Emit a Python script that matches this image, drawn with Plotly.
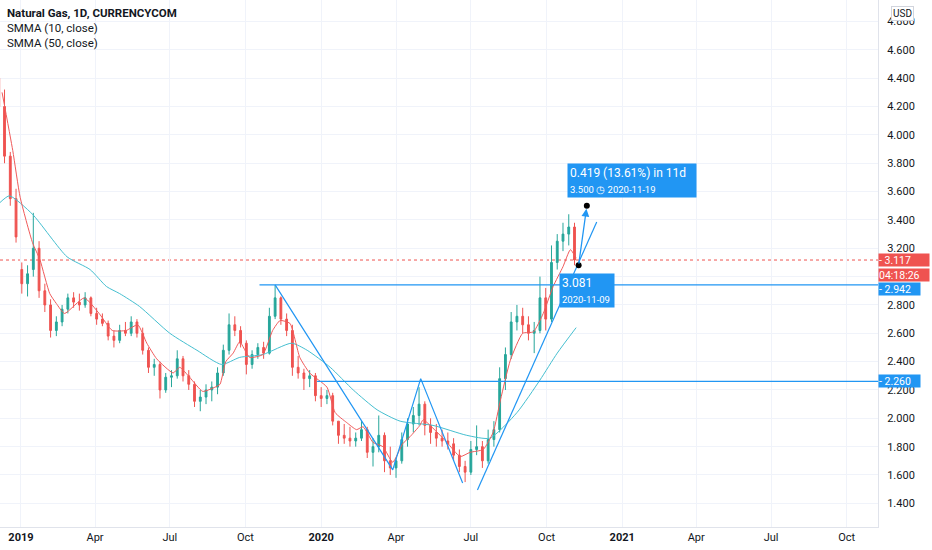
import pandas as pd
import plotly.graph_objects as go

# ---------------- data ----------------
candle_dates = pd.date_range("2018-12-05", periods=101, freq="7D")

opens = [4.40, 4.20, 3.85, 3.55, 3.05, 2.95, 3.05, 3.20, 2.90, 2.80,
         2.62, 2.68, 2.77, 2.85, 2.82, 2.80, 2.85, 2.74, 2.70, 2.67,
         2.58, 2.55, 2.62, 2.60, 2.68, 2.60, 2.48, 2.36, 2.38, 2.20,
         2.29, 2.30, 2.42, 2.30, 2.24, 2.12, 2.15, 2.20, 2.22, 2.32,
         2.48, 2.66, 2.62, 2.53, 2.38, 2.45, 2.50, 2.46, 2.72, 2.85,
         2.70, 2.62, 2.36, 2.32, 2.28, 2.30, 2.16, 2.14, 2.16, 1.98,
         1.88, 1.86, 1.84, 1.86, 1.92, 1.76, 1.80, 1.88, 1.70, 1.65,
         1.70, 1.85, 1.96, 2.02, 2.10, 1.95, 1.90, 1.86, 1.84, 1.82,
         1.74, 1.66, 1.62, 1.78, 1.80, 1.70, 1.85, 1.92, 2.28, 2.45,
         2.68, 2.72, 2.66, 2.60, 2.62, 2.85, 2.70, 3.10, 3.25, 3.30,
         3.35]
highs = [4.58, 4.32, 3.88, 3.62, 3.10, 3.08, 3.45, 3.25, 2.95, 2.84,
         2.72, 2.80, 2.88, 2.89, 2.88, 2.89, 2.86, 2.78, 2.74, 2.69,
         2.62, 2.66, 2.68, 2.72, 2.70, 2.64, 2.50, 2.42, 2.40, 2.32,
         2.34, 2.48, 2.44, 2.34, 2.26, 2.20, 2.24, 2.26, 2.36, 2.52,
         2.74, 2.72, 2.65, 2.55, 2.48, 2.53, 2.54, 2.78, 2.94, 2.86,
         2.74, 2.66, 2.44, 2.35, 2.34, 2.32, 2.22, 2.20, 2.18, 1.98,
         1.96, 1.94, 1.90, 1.98, 1.94, 1.86, 2.02, 1.90, 1.80, 1.72,
         1.90, 2.00, 2.08, 2.22, 2.12, 2.00, 1.96, 1.92, 1.90, 1.86,
         1.78, 1.70, 1.84, 1.95, 1.84, 1.92, 1.98, 2.36, 2.50, 2.75,
         2.80, 2.78, 2.72, 2.68, 3.00, 2.92, 3.22, 3.30, 3.38, 3.44,
         3.38]
lows = [4.15, 3.80, 3.50, 3.24, 2.88, 2.86, 3.00, 2.85, 2.75, 2.57,
        2.58, 2.65, 2.74, 2.78, 2.76, 2.78, 2.72, 2.66, 2.65, 2.55,
        2.50, 2.53, 2.58, 2.58, 2.57, 2.45, 2.32, 2.30, 2.14, 2.18,
        2.22, 2.28, 2.26, 2.20, 2.08, 2.05, 2.10, 2.12, 2.17, 2.30,
        2.45, 2.58, 2.50, 2.31, 2.35, 2.42, 2.42, 2.45, 2.70, 2.66,
        2.58, 2.30, 2.28, 2.20, 2.22, 2.12, 2.08, 2.10, 1.95, 1.82,
        1.82, 1.80, 1.80, 1.84, 1.72, 1.66, 1.76, 1.62, 1.60, 1.58,
        1.68, 1.80, 1.90, 1.95, 1.88, 1.82, 1.80, 1.80, 1.78, 1.70,
        1.62, 1.55, 1.60, 1.74, 1.65, 1.68, 1.80, 1.90, 2.20, 2.42,
        2.62, 2.60, 2.55, 2.46, 2.60, 2.62, 2.68, 3.05, 3.18, 3.22,
        3.08]
closes = [4.20, 3.85, 3.55, 3.28, 2.95, 3.02, 3.20, 2.90, 2.80, 2.62,
          2.68, 2.77, 2.85, 2.82, 2.80, 2.85, 2.74, 2.70, 2.67, 2.58,
          2.55, 2.62, 2.60, 2.68, 2.60, 2.48, 2.36, 2.38, 2.20, 2.29,
          2.30, 2.42, 2.30, 2.24, 2.12, 2.15, 2.20, 2.22, 2.32, 2.48,
          2.66, 2.62, 2.53, 2.38, 2.45, 2.50, 2.46, 2.72, 2.85, 2.70,
          2.62, 2.36, 2.32, 2.28, 2.30, 2.16, 2.14, 2.16, 1.98, 1.88,
          1.86, 1.84, 1.86, 1.92, 1.76, 1.80, 1.88, 1.70, 1.65, 1.70,
          1.85, 1.96, 2.02, 2.10, 1.95, 1.90, 1.86, 1.84, 1.82, 1.74,
          1.66, 1.62, 1.78, 1.80, 1.70, 1.85, 1.92, 2.28, 2.45, 2.68,
          2.72, 2.66, 2.60, 2.62, 2.85, 2.70, 3.10, 3.25, 3.30, 3.35,
          3.117]

smma10_dates = ["2018-12-09", "2018-12-22", "2018-12-31", "2019-01-15", "2019-01-24",
                "2019-02-05", "2019-02-13", "2019-02-23", "2019-03-19", "2019-04-06",
                "2019-04-22", "2019-05-09", "2019-05-23", "2019-06-03", "2019-06-15",
                "2019-07-05", "2019-07-13", "2019-07-25", "2019-08-10", "2019-08-25",
                "2019-08-31", "2019-09-07", "2019-09-16", "2019-09-24", "2019-10-06",
                "2019-10-22", "2019-11-03", "2019-11-12", "2019-11-24", "2019-12-06",
                "2019-12-18", "2020-01-08", "2020-01-18", "2020-02-01", "2020-02-13",
                "2020-02-21", "2020-03-04", "2020-03-16", "2020-03-28", "2020-04-09",
                "2020-04-18", "2020-04-30", "2020-05-04", "2020-05-16", "2020-06-02",
                "2020-06-18", "2020-06-30", "2020-07-16", "2020-07-28", "2020-08-06",
                "2020-08-18", "2020-09-02", "2020-09-15", "2020-09-27", "2020-10-09",
                "2020-10-21", "2020-10-30", "2020-11-06"]
smma10_vals = [4.30, 3.89, 3.56, 3.24, 3.12,
               2.88, 2.81, 2.74, 2.85, 2.74,
               2.62, 2.62, 2.66, 2.53, 2.42,
               2.32, 2.36, 2.29, 2.19, 2.22,
               2.24, 2.40, 2.46, 2.54, 2.43,
               2.45, 2.62, 2.69, 2.67, 2.43,
               2.32, 2.22, 2.04, 1.97, 1.92,
               1.94, 1.83, 1.80, 1.69, 1.82,
               1.87, 1.95, 1.99, 1.93, 1.83,
               1.73, 1.76, 1.78, 1.90, 2.13,
               2.41, 2.60, 2.61, 2.74, 2.93,
               3.07, 3.19, 3.13]

smma50_dates = ["2018-12-06", "2018-12-18", "2019-01-15", "2019-02-26", "2019-03-26",
                "2019-04-15", "2019-05-01", "2019-05-25", "2019-07-01", "2019-08-03",
                "2019-09-02", "2019-09-24", "2019-10-22", "2019-11-26", "2019-12-15",
                "2020-01-12", "2020-02-09", "2020-03-09", "2020-04-06", "2020-05-16",
                "2020-06-26", "2020-07-24", "2020-08-26", "2020-09-23", "2020-10-14",
                "2020-11-06"]
smma50_vals = [3.52, 3.57, 3.44, 3.14, 3.05,
               2.93, 2.88, 2.79, 2.60, 2.48,
               2.38, 2.43, 2.45, 2.53, 2.48,
               2.36, 2.20, 2.06, 1.98, 1.95,
               1.88, 1.86, 2.04, 2.27, 2.46,
               2.64]

last_price = 3.117
countdown_text = "04:18:26"

# drawing tools (user drawings on the chart)
hline_levels = [2.942, 2.260]
hline_starts = ["2019-10-18", "2019-12-27"]
zigzag_dates = ["2019-11-06", "2020-03-28", "2020-05-01", "2020-06-21"]
zigzag_vals = [2.942, 1.636, 2.28, 1.544]
trend_dates = ["2020-07-09", "2020-12-01"]
trend_vals = [1.494, 3.386]
proj_dates = ["2020-11-09", "2020-11-19"]
proj_vals = [3.081, 3.500]
proj_change = "0.419 (13.61%) in 11d"

x_ticks = ["2019-01-01", "2019-04-01", "2019-07-01", "2019-10-01",
           "2020-01-01", "2020-04-01", "2020-07-01", "2020-10-01",
           "2021-01-01", "2021-04-01", "2021-07-01", "2021-10-01"]
x_ticktext = ["<b>2019</b>", "Apr", "Jul", "Oct", "<b>2020</b>", "Apr", "Jul", "Oct",
              "<b>2021</b>", "Apr", "Jul", "Oct"]
y_ticks = [1.4, 1.6, 1.8, 2.0, 2.2, 2.4, 2.6, 2.8, 3.0, 3.2, 3.4, 3.6, 3.8,
           4.0, 4.2, 4.4, 4.6, 4.8]
y_hidden_labels = [3.0]   # covered by the price labels in the reference

x_range = ["2018-12-06 12:00", "2021-11-08"]
y_range = [1.233, 4.952]

# ---------------- styling ----------------
UP = "#26a69a"
DOWN = "#ef5350"
BLUE = "#2196f3"
RED_LBL = "#ef5350"
GRID = "#f0f3fa"
TXT = "#131722"
FONT = "Roboto"

fig = go.Figure()

fig.add_trace(go.Candlestick(
    x=candle_dates, open=opens, high=highs, low=lows, close=closes,
    increasing=dict(line=dict(color=UP, width=1), fillcolor=UP),
    decreasing=dict(line=dict(color=DOWN, width=1), fillcolor=DOWN),
    whiskerwidth=0, showlegend=False, hoverinfo="skip"))

fig.add_trace(go.Scatter(x=smma50_dates, y=smma50_vals, mode="lines",
                         line=dict(color="#45bfd0", width=1, shape="spline", smoothing=0.6),
                         showlegend=False, hoverinfo="skip"))
fig.add_trace(go.Scatter(x=smma10_dates, y=smma10_vals, mode="lines",
                         line=dict(color="#f05a5a", width=1, shape="spline", smoothing=0.5),
                         showlegend=False, hoverinfo="skip"))

# horizontal drawn levels
for lvl, start in zip(hline_levels, hline_starts):
    fig.add_trace(go.Scatter(x=[start, x_range[1]], y=[lvl, lvl], mode="lines",
                             line=dict(color=BLUE, width=1.2),
                             showlegend=False, hoverinfo="skip"))

# zigzag + trend line
fig.add_trace(go.Scatter(x=zigzag_dates, y=zigzag_vals, mode="lines",
                         line=dict(color=BLUE, width=1.2), showlegend=False, hoverinfo="skip"))
fig.add_trace(go.Scatter(x=trend_dates, y=trend_vals, mode="lines",
                         line=dict(color=BLUE, width=1.2), showlegend=False, hoverinfo="skip"))

# last price dotted line
fig.add_shape(type="line", xref="paper", x0=0, x1=1, yref="y", y0=last_price, y1=last_price,
              line=dict(color=RED_LBL, width=1, dash="dot"), layer="below")

# projection arrow
fig.add_annotation(x=proj_dates[1], y=proj_vals[1], ax=proj_dates[0], ay=proj_vals[0],
                   xref="x", yref="y", axref="x", ayref="y", text="", showarrow=True,
                   arrowhead=2, arrowsize=1.2, arrowwidth=1.3, arrowcolor=BLUE, standoff=3)
fig.add_trace(go.Scatter(x=proj_dates, y=proj_vals, mode="markers",
                         marker=dict(color="#000000", size=6), showlegend=False, hoverinfo="skip"))

# projection labels
fig.add_annotation(x=proj_dates[1], y=proj_vals[1], xref="x", yref="y", showarrow=False,
                   xanchor="left", yanchor="bottom", xshift=-20, yshift=8, align="left",
                   text=f"{proj_change}<br><span style='font-size:9.5px'>{proj_vals[1]:.3f} ◷ {proj_dates[1]}</span>",
                   font=dict(family=FONT, size=12, color="white"),
                   bgcolor=BLUE, borderpad=2, width=124)
fig.add_annotation(x=proj_dates[0], y=proj_vals[0], xref="x", yref="y", showarrow=False,
                   xanchor="left", yanchor="top", xshift=-20, yshift=-8, align="left",
                   text=f"{proj_vals[0]:.3f}<br><span style='font-size:9.5px'>{proj_dates[0]}</span>",
                   font=dict(family=FONT, size=12, color="white"),
                   bgcolor=BLUE, borderpad=2, width=50)

# price-scale labels
def axis_label(y, text, color, width, yshift=0):
    fig.add_annotation(x=1, xref="paper", y=y, yref="y", xanchor="left", yanchor="middle",
                       text=text, showarrow=False, bgcolor=color, width=width, align="left",
                       font=dict(family=FONT, size=10.5, color="white"), borderpad=0,
                       xshift=0, yshift=yshift, height=12)

axis_label(last_price, "‐ " + f"{last_price:.3f}", RED_LBL, 50)
axis_label(last_price, countdown_text, RED_LBL, 50, yshift=-15)
axis_label(hline_levels[0], "‐ " + f"{hline_levels[0]:.3f}", BLUE, 41, yshift=-4)
axis_label(hline_levels[1], "‐ " + f"{hline_levels[1]:.3f}", BLUE, 41)

# title / legend lines
fig.add_annotation(x=0, y=1, xref="paper", yref="paper", xanchor="left", yanchor="top",
                   xshift=5, yshift=-4, showarrow=False, align="left",
                   text="<b>Natural Gas, 1D, CURRENCYCOM</b><br>SMMA (10, close)<br>SMMA (50, close)",
                   font=dict(family=FONT, size=11.5, color=TXT))

# USD badge
fig.add_annotation(x=1, y=1, xref="paper", yref="paper", xanchor="left", yanchor="top",
                   xshift=13, yshift=-6, showarrow=False, text="USD",
                   font=dict(family=FONT, size=10, color=TXT),
                   bgcolor="white", bordercolor="#d1d4dc", borderwidth=1, borderpad=1)

fig.update_layout(
    width=932, height=550,
    margin=dict(l=0, r=54, t=0, b=23),
    paper_bgcolor="white", plot_bgcolor="white",
    showlegend=False,
    boxgap=0.55,
    font=dict(family=FONT, size=11, color=TXT),
    xaxis=dict(range=x_range, rangeslider=dict(visible=False), tickvals=x_ticks,
               ticktext=x_ticktext, showgrid=True, gridcolor=GRID, gridwidth=1,
               zeroline=False, showline=True, linecolor="#e0e3eb", mirror=False,
               ticks="", tickfont=dict(family=FONT, size=11, color=TXT)),
    yaxis=dict(range=y_range, side="right", tickvals=y_ticks,
               ticktext=["" if v in y_hidden_labels else f"{v:.3f}" for v in y_ticks],
               showgrid=True, gridcolor=GRID,
               zeroline=False, showline=True, linecolor="#e0e3eb", ticks="",
               ticklabelstandoff=6, tickfont=dict(family=FONT, size=11, color=TXT)),
)

fig.write_html("out.html", config={"displayModeBar": False},
               post_script="document.body.style.margin='0';")
